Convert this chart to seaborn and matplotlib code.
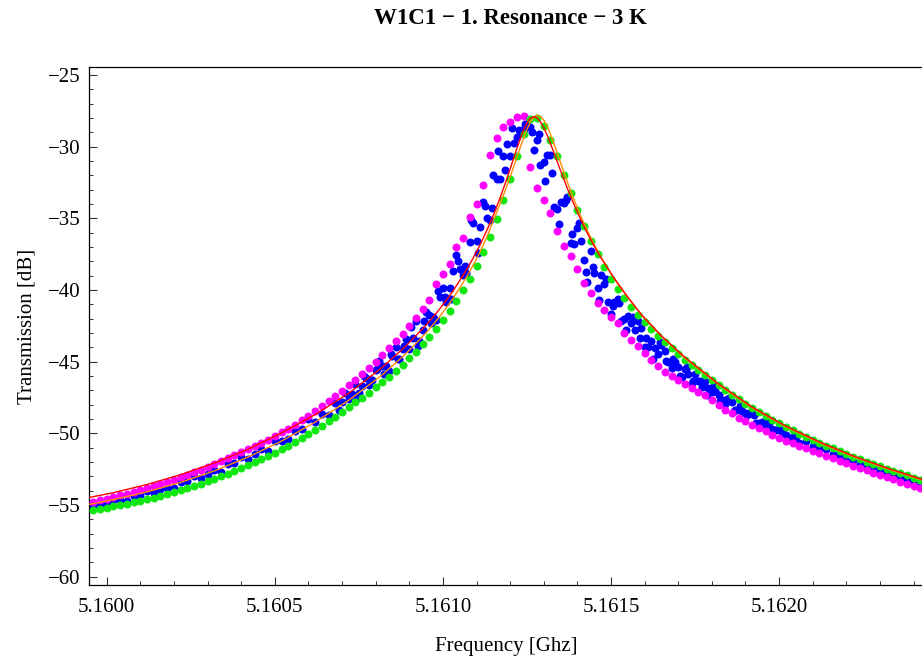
import matplotlib
matplotlib.use("Agg")
import matplotlib.pyplot as plt
import numpy as np
import pandas as pd
import seaborn as sns
from matplotlib.ticker import FixedLocator, MultipleLocator, FormatStrFormatter

# ---------------- data ----------------
freq = [
    5.15996, 5.15998, 5.16000, 5.16002, 5.16004, 5.16006, 5.16008, 5.16010, 5.16012, 5.16014,
    5.16016, 5.16018, 5.16020, 5.16022, 5.16024, 5.16026, 5.16028, 5.16030, 5.16032, 5.16034,
    5.16036, 5.16038, 5.16040, 5.16042, 5.16044, 5.16046, 5.16048, 5.16050, 5.16052, 5.16054,
    5.16056, 5.16058, 5.16060, 5.16062, 5.16064, 5.16066, 5.16068, 5.16070, 5.16072, 5.16074,
    5.16076, 5.16078, 5.16080, 5.16082, 5.16084, 5.16086, 5.16088, 5.16090, 5.16092, 5.16094,
    5.16096, 5.16098, 5.16100, 5.16102, 5.16104, 5.16106, 5.16108, 5.16110, 5.16112, 5.16114,
    5.16116, 5.16118, 5.16120, 5.16122, 5.16124, 5.16126, 5.16128, 5.16130, 5.16132, 5.16134,
    5.16136, 5.16138, 5.16140, 5.16142, 5.16144, 5.16146, 5.16148, 5.16150, 5.16152, 5.16154,
    5.16156, 5.16158, 5.16160, 5.16162, 5.16164, 5.16166, 5.16168, 5.16170, 5.16172, 5.16174,
    5.16176, 5.16178, 5.16180, 5.16182, 5.16184, 5.16186, 5.16188, 5.16190, 5.16192, 5.16194,
    5.16196, 5.16198, 5.16200, 5.16202, 5.16204, 5.16206, 5.16208, 5.16210, 5.16212, 5.16214,
    5.16216, 5.16218, 5.16220, 5.16222, 5.16224, 5.16226, 5.16228, 5.16230, 5.16232, 5.16234,
    5.16236, 5.16238, 5.16240, 5.16242, 5.16244,
]

green = [
    -55.38, -55.28, -55.20, -55.10, -55.01, -54.92, -54.82, -54.71, -54.60, -54.48,
    -54.36, -54.23, -54.10, -53.96, -53.82, -53.67, -53.51, -53.35, -53.18, -53.00,
    -52.81, -52.62, -52.42, -52.22, -52.01, -51.80, -51.58, -51.35, -51.11, -50.86,
    -50.60, -50.33, -50.05, -49.76, -49.46, -49.15, -48.84, -48.51, -48.18, -47.84,
    -47.50, -47.16, -46.80, -46.43, -46.04, -45.63, -45.21, -44.76, -44.29, -43.79,
    -43.26, -42.70, -42.10, -41.46, -40.77, -40.03, -39.22, -38.33, -37.35, -36.27,
    -35.07, -33.72, -32.23, -30.64, -29.12, -28.10, -28.02, -28.55, -29.55, -30.67,
    -31.96, -33.26, -34.43, -35.53, -36.55, -37.51, -38.41, -39.26, -39.93, -40.56,
    -41.15, -41.71, -42.23, -42.72, -43.19, -43.63, -44.06, -44.46, -44.85, -45.22,
    -45.58, -45.93, -46.27, -46.64, -46.99, -47.31, -47.63, -47.94, -48.24, -48.53,
    -48.80, -49.06, -49.31, -49.55, -49.79, -50.02, -50.24, -50.45, -50.66, -50.86,
    -51.05, -51.25, -51.43, -51.62, -51.80, -51.97, -52.14, -52.30, -52.46, -52.62,
    -52.78, -52.93, -53.08, -53.22, -53.37,
]

magenta = [
    -54.78, -54.66, -54.55, -54.43, -54.31, -54.20, -54.08, -53.94, -53.81, -53.67,
    -53.52, -53.37, -53.22, -53.05, -52.88, -52.71, -52.53, -52.35, -52.16, -51.96,
    -51.75, -51.54, -51.33, -51.12, -50.89, -50.67, -50.43, -50.19, -49.93, -49.67,
    -49.39, -49.09, -48.78, -48.46, -48.12, -47.77, -47.42, -47.04, -46.66, -46.27,
    -45.87, -45.46, -45.02, -44.56, -44.07, -43.56, -43.04, -42.49, -41.92, -41.32,
    -40.69, -39.60, -38.90, -38.20, -37.00, -36.40, -34.90, -34.00, -32.70, -30.60,
    -29.40, -28.60, -28.25, -27.95, -27.85, -31.40, -32.90, -33.70, -34.60, -35.90,
    -36.90, -37.60, -38.50, -39.50, -40.20, -40.90, -41.40, -41.90, -42.30, -43.00,
    -43.50, -43.90, -44.40, -44.90, -45.30, -45.70, -46.00, -46.30, -46.55, -46.85,
    -47.10, -47.35, -47.70, -48.05, -48.35, -48.60, -48.90, -49.15, -49.40, -49.60,
    -49.85, -50.10, -50.30, -50.50, -50.70, -50.90, -51.05, -51.20, -51.38, -51.55,
    -51.75, -51.95, -52.10, -52.25, -52.42, -52.58, -52.74, -52.90, -53.05, -53.20,
    -53.37, -53.52, -53.67, -53.82, -53.97,
]

blue = [
    -55.08, -54.91, -54.94, -54.63, -54.66, -54.70, -54.38, -54.33, -54.05, -54.16,
    -53.86, -53.80, -53.84, -53.41, -53.35, -53.00, -53.12, -52.85, -52.57, -52.69,
    -52.17, -52.08, -51.66, -51.78, -51.45, -51.12, -51.24, -50.54, -50.52, -50.38,
    -49.87, -49.71, -49.03, -49.24, -48.66, -48.74, -47.85, -47.78, -47.57, -46.58,
    -46.69, -46.65, -45.55, -45.31, -45.65, -43.97, -44.13, -44.08, -42.16, -42.80,
    -41.72, -42.08, -39.86, -39.83, -37.57, -38.94, -36.63, -36.60, -33.86, -35.14,
    -32.24, -30.65, -30.64, -29.30, -28.74, -28.60, -29.50, -31.10, -30.56, -34.33,
    -33.94, -36.73, -35.65, -37.91, -37.28, -39.88, -39.61, -41.64, -40.64, -42.02,
    -42.33, -42.15, -43.97, -43.59, -44.46, -44.25, -45.42, -45.38, -45.53, -46.52,
    -46.34, -46.36, -47.13, -47.35, -47.94, -47.83, -48.39, -48.55, -48.59, -49.28,
    -49.33, -49.68, -49.71, -50.12, -50.25, -50.64, -50.56, -50.90, -51.02, -51.07,
    -51.47, -51.60, -51.90, -51.87, -52.11, -52.34, -52.38, -52.60, -52.81, -52.91,
    -53.02, -53.28, -53.38, -53.52, -53.73,
]

# further blue sweeps (interleaved frequencies)
freq_blue2 = [
    5.16069, 5.16071, 5.16073, 5.16075, 5.16077, 5.16079, 5.16081, 5.16083, 5.16085, 5.16087,
    5.16089, 5.16091, 5.16093, 5.16095, 5.16097, 5.16099, 5.16101, 5.16103, 5.16105, 5.16107,
    5.16109, 5.16111, 5.16113, 5.16115, 5.16117, 5.16119, 5.16121, 5.16123, 5.16125, 5.16127,
    5.16129, 5.16131, 5.16133, 5.16135, 5.16137, 5.16139, 5.16141, 5.16143, 5.16145, 5.16147,
    5.16149, 5.16151, 5.16153, 5.16155, 5.16157, 5.16159, 5.16161, 5.16163, 5.16165, 5.16167,
    5.16169, 5.16171, 5.16173, 5.16175, 5.16177, 5.16179, 5.16181, 5.16183, 5.16185, 5.16187,
    5.16189, 5.16191, 5.16193, 5.16195, 5.16197, 5.16199, 5.16201, 5.16203, 5.16205,
]
blue2 = [
    -48.39, -47.15, -47.24, -47.19, -46.17, -46.28, -44.97, -45.28, -44.63, -44.78,
    -43.44, -43.37, -43.56, -41.51, -41.85, -40.51, -40.81, -38.66, -38.55, -38.83,
    -35.32, -35.60, -35.00, -31.98, -32.24, -29.80, -29.77, -28.90, -28.45, -30.20,
    -31.26, -30.58, -34.22, -33.86, -33.54, -36.79, -36.59, -39.47, -38.79, -38.92,
    -40.81, -40.85, -42.17, -41.82, -42.79, -42.62, -44.00, -44.03, -43.83, -45.05,
    -45.02, -46.08, -45.87, -45.87, -46.79, -46.82, -47.03, -47.65, -47.55, -48.37,
    -48.41, -48.57, -49.28, -49.20, -49.25, -49.80, -49.92, -50.32, -50.27,
]
freq_blue3 = [
    5.160745, 5.160765, 5.160785, 5.160805, 5.160825, 5.160845, 5.160865, 5.160885, 5.160905, 5.160925,
    5.160945, 5.160965, 5.160985, 5.161005, 5.161025, 5.161045, 5.161065, 5.161085, 5.161105, 5.161125,
    5.161145, 5.161165, 5.161185, 5.161205, 5.161225, 5.161245, 5.161265, 5.161285, 5.161305, 5.161325,
    5.161345, 5.161365, 5.161385, 5.161405, 5.161425, 5.161445, 5.161465, 5.161485, 5.161505, 5.161525,
    5.161545, 5.161565, 5.161585, 5.161605, 5.161625, 5.161645, 5.161665, 5.161685, 5.161705, 5.161725,
    5.161745, 5.161765, 5.161785, 5.161805, 5.161825, 5.161845, 5.161865, 5.161885, 5.161905, 5.161925,
    5.161945, 5.161965, 5.161985, 5.162005, 5.162025,
]
blue3 = [
    -47.52, -46.02, -46.30, -45.54, -45.86, -44.44, -44.80, -43.89, -42.58, -43.93,
    -42.16, -42.31, -40.05, -40.50, -40.61, -37.97, -38.31, -35.11, -37.43, -34.14,
    -34.27, -30.31, -31.66, -28.73, -28.86, -28.40, -29.00, -29.14, -32.39, -31.87,
    -35.38, -33.73, -36.12, -35.32, -38.71, -38.41, -40.70, -39.20, -41.10, -40.93,
    -42.77, -41.87, -43.37, -43.33, -44.78, -43.62, -44.96, -44.83, -46.00, -45.36,
    -46.35, -46.34, -47.30, -46.65, -47.71, -47.61, -48.42, -48.09, -48.73, -48.71,
    -49.40, -49.13, -49.79, -49.76, -50.36,
]

# fitted curves (red and orange)
freq_fit = [
    5.15992, 5.16002, 5.16012, 5.16022, 5.16032, 5.16042, 5.16052, 5.16062, 5.16072, 5.16082,
    5.16089, 5.16095, 5.16099, 5.16103, 5.16107, 5.16109, 5.16111, 5.16113, 5.16115, 5.16117,
    5.16119, 5.16120, 5.16121, 5.16122, 5.16123, 5.16124, 5.16125, 5.16126, 5.16127, 5.16128,
    5.16129, 5.16130, 5.16131, 5.16132, 5.16133, 5.16134, 5.16135, 5.16137, 5.16139, 5.16141,
    5.16143, 5.16145, 5.16147, 5.16151, 5.16155, 5.16159, 5.16165, 5.16172, 5.16182, 5.16192,
    5.16202, 5.16212, 5.16222, 5.16232, 5.16242, 5.16252,
]
fit_red = [
    -54.60, -54.14, -53.57, -52.88, -52.07, -51.11, -49.97, -48.69, -47.20, -45.39,
    -43.90, -42.45, -41.34, -40.07, -38.60, -37.77, -36.87, -35.87, -34.78, -33.57,
    -32.25, -31.55, -30.84, -30.13, -29.45, -28.84, -28.34, -28.02, -27.90, -27.99,
    -28.26, -28.67, -29.19, -29.78, -30.40, -31.04, -31.67, -32.90, -34.04, -35.09,
    -36.05, -36.94, -37.75, -39.19, -40.50, -41.70, -43.20, -44.70, -46.55, -48.17,
    -49.49, -50.60, -51.57, -52.41, -53.17, -53.90,
]
fit_orange = [
    -55.09, -54.62, -54.08, -53.42, -52.62, -51.66, -50.54, -49.22, -47.69, -45.91,
    -44.44, -42.99, -41.87, -40.59, -39.11, -38.27, -37.35, -36.34, -35.15, -33.99,
    -32.76, -32.10, -31.43, -30.74, -30.06, -29.40, -28.80, -28.30, -27.95, -27.80,
    -27.87, -28.14, -28.57, -29.13, -29.76, -30.44, -31.12, -32.46, -33.70, -34.84,
    -35.88, -36.83, -37.70, -39.23, -40.53, -41.73, -43.23, -44.75, -46.60, -48.22,
    -49.54, -50.65, -51.62, -52.46, -53.22, -53.95,
]

x_major = [5.1600, 5.1605, 5.1610, 5.1615, 5.1620]
title = "W1C1 \u2212 1. Resonance \u2212 3 K"
xlabel = "Frequency [Ghz]"
ylabel = "Transmission [dB]"

# ---------------- plotting ----------------
sns.set_theme(style="white")
plt.rcParams['font.family'] = ['Liberation Serif', 'DejaVu Serif']
plt.rcParams['axes.unicode_minus'] = True
plt.rcParams['text.color'] = 'black'
plt.rcParams['axes.labelcolor'] = 'black'
plt.rcParams['xtick.color'] = 'black'
plt.rcParams['ytick.color'] = 'black'

W, H = 922, 660
fig = plt.figure(figsize=(W / 100, H / 100), dpi=100)
ax_l, ax_r, ax_t, ax_b = 89, 924, 67, 585
ax = fig.add_axes([ax_l / W, 1 - ax_b / H, (ax_r - ax_l) / W, (ax_b - ax_t) / H])
ax.set_facecolor('white')

df_blue = pd.DataFrame({'f': freq + freq_blue2 + freq_blue3,
                        'T': blue + blue2 + blue3})
df_mag = pd.DataFrame({'f': freq, 'T': magenta})
df_green = pd.DataFrame({'f': freq, 'T': green})
df_red = pd.DataFrame({'f': freq_fit, 'T': fit_red})
df_orange = pd.DataFrame({'f': freq_fit, 'T': fit_orange})

msize = 33
sns.scatterplot(data=df_blue, x='f', y='T', color='#0000FF', s=msize, linewidth=0,
                ax=ax, legend=False, zorder=2)
sns.scatterplot(data=df_mag, x='f', y='T', color='#FF00FF', s=msize, linewidth=0,
                ax=ax, legend=False, zorder=3)
sns.scatterplot(data=df_green, x='f', y='T', color='#10E810', s=msize, linewidth=0,
                ax=ax, legend=False, zorder=4)
sns.lineplot(data=df_orange, x='f', y='T', color='#FF8C00', linewidth=1.0, sort=False,
             estimator=None, ax=ax, legend=False, zorder=5)
sns.lineplot(data=df_red, x='f', y='T', color='#FF0000', linewidth=1.0, sort=False,
             estimator=None, ax=ax, legend=False, zorder=6)

xmin = 5.16 + (ax_l - 106.7) / 336200
xmax = 5.16 + (ax_r - 106.7) / 336200
ax.set_xlim(xmin, xmax)
ax.set_ylim(-60.58, -24.44)

ax.xaxis.set_major_locator(FixedLocator(x_major))
ax.xaxis.set_minor_locator(FixedLocator([round(5.1599 + 0.0001 * i, 4) for i in range(27)]))
ax.xaxis.set_major_formatter(FormatStrFormatter('%.4f'))
ax.yaxis.set_major_locator(MultipleLocator(5))
ax.yaxis.set_minor_locator(MultipleLocator(1))

fs = 15
ax.tick_params(which='both', direction='in', color='#333333', labelcolor='black',
               bottom=True, left=True, top=False, right=False, labelsize=fs)
ax.tick_params(which='major', length=5.5, width=0.8)
ax.tick_params(which='minor', length=3.2, width=0.7)
ax.tick_params(axis='x', which='major', pad=9)
ax.tick_params(axis='y', which='major', pad=6)

for side in ['left', 'bottom', 'top']:
    ax.spines[side].set_color('black')
    ax.spines[side].set_linewidth(0.9)
ax.spines['right'].set_visible(False)

ax.set_xlabel(xlabel, fontsize=fs, labelpad=15)
ax.set_ylabel(ylabel, fontsize=fs, labelpad=8)
fig.text(510 / W, 1 - 18 / H, title, ha='center', va='center', fontsize=16.5,
         fontweight='bold')

fig.savefig('out.png', dpi=100)
